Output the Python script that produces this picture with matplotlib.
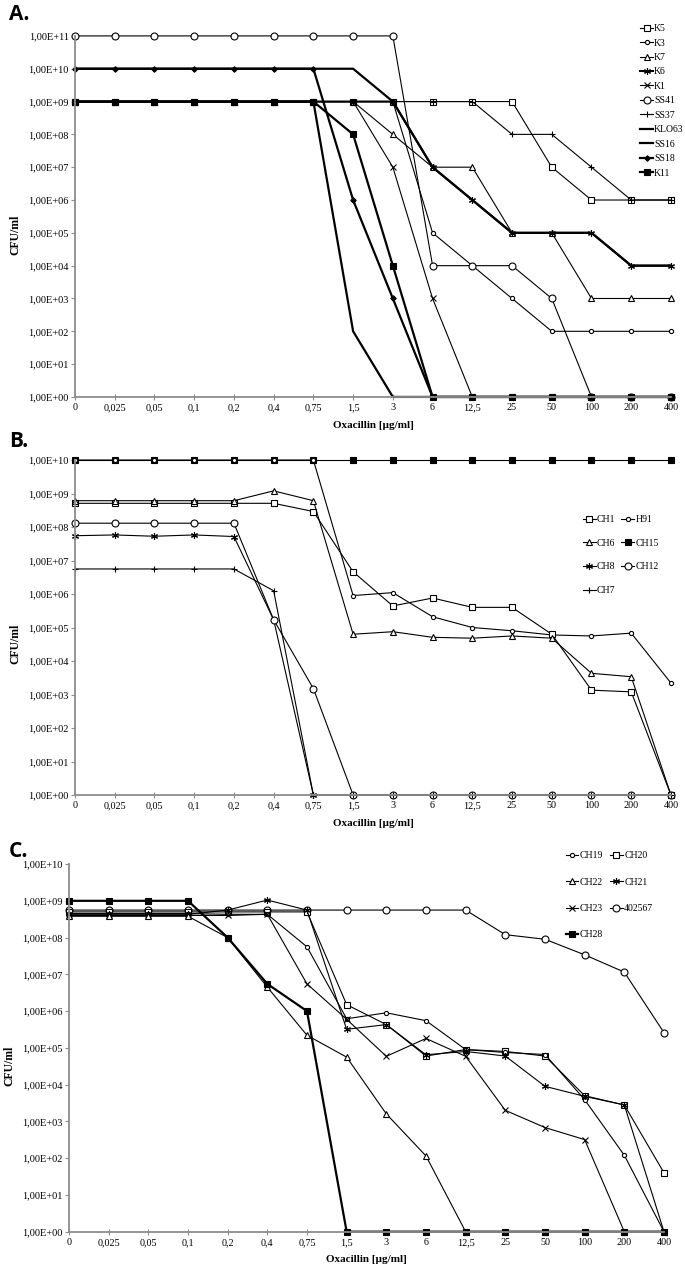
import numpy as np
import matplotlib
matplotlib.use('Agg')
import matplotlib.pyplot as plt

plt.rcParams['font.family'] = ['Liberation Serif', 'DejaVu Serif']

# stezenia oksacyliny (wspolne dla wszystkich paneli)
conc = ['0', '0,025', '0,05', '0,1', '0,2', '0,4', '0,75', '1,5', '3', '6',
        '12,5', '25', '50', '100', '200', '400']

# panel A
K5 = [1e9, 1e9, 1e9, 1e9, 1e9, 1e9, 1e9, 1e9, 1e9, 1e9, 1e9, 1e9, 1e7, 1e6, 1e6, 1e6]
K3 = [1e9, 1e9, 1e9, 1e9, 1e9, 1e9, 1e9, 1e9, 1e9, 1e5, 1e4, 1e3, 1e2, 1e2, 1e2, 1e2]
K7 = [1e9, 1e9, 1e9, 1e9, 1e9, 1e9, 1e9, 1e9, 1e8, 1e7, 1e7, 1e5, 1e5, 1e3, 1e3, 1e3]
K6 = [1e9, 1e9, 1e9, 1e9, 1e9, 1e9, 1e9, 1e9, 1e9, 1e7, 1e6, 1e5, 1e5, 1e5, 1e4, 1e4]
K1 = [1e9, 1e9, 1e9, 1e9, 1e9, 1e9, 1e9, 1e9, 1e7, 1e3, 1, 1, 1, 1, 1, 1]
SS41 = [1e11, 1e11, 1e11, 1e11, 1e11, 1e11, 1e11, 1e11, 1e11, 1e4, 1e4, 1e4, 1e3, 1, 1, 1]
SS37 = [1e9, 1e9, 1e9, 1e9, 1e9, 1e9, 1e9, 1e9, 1e9, 1e9, 1e9, 1e8, 1e8, 1e7, 1e6, 1e6]
KLO63 = [1e10, 1e10, 1e10, 1e10, 1e10, 1e10, 1e10, 1e10, 1e9, 1e7, 1e6, 1e5, 1e5, 1e5, 1e4, 1e4]
SS16 = [1e9, 1e9, 1e9, 1e9, 1e9, 1e9, 1e9, 1e2, 1, 1, 1, 1, 1, 1, 1, 1]
SS18 = [1e10, 1e10, 1e10, 1e10, 1e10, 1e10, 1e10, 1e6, 1e3, 1, 1, 1, 1, 1, 1, 1]
K11 = [1e9, 1e9, 1e9, 1e9, 1e9, 1e9, 1e9, 1e8, 1e4, 1, 1, 1, 1, 1, 1, 1]

# panel B
CH1 = [5.1e8, 5.1e8, 5.1e8, 5.1e8, 5.1e8, 5.1e8, 2.9e8, 4.6e6, 4.4e5, 7.6e5, 4e5, 4e5, 6.3e4, 1.35e3, 1.2e3, 1]
H91 = [1e10, 1e10, 1e10, 1e10, 1e10, 1e10, 1e10, 9e5, 1.1e6, 2.1e5, 1e5, 8e4, 6e4, 5.6e4, 6.8e4, 2.2e3]
CH6 = [6.1e8, 6.1e8, 6.1e8, 6.1e8, 6.1e8, 1.2e9, 6.1e8, 6.3e4, 7.5e4, 5.1e4, 4.8e4, 5.6e4, 4.8e4, 4.3e3, 3.4e3, 1]
CH15 = [1e10, 1e10, 1e10, 1e10, 1e10, 1e10, 1e10, 1e10, 1e10, 1e10, 1e10, 1e10, 1e10, 1e10, 1e10, 1e10]
CH8 = [5.5e7, 5.8e7, 5.3e7, 5.8e7, 5.2e7, 1.7e5, 1, 1, 1, 1, 1, 1, 1, 1, 1, 1]
CH12 = [1.3e8, 1.3e8, 1.3e8, 1.3e8, 1.3e8, 1.7e5, 1.5e3, 1, 1, 1, 1, 1, 1, 1, 1, 1]
CH7 = [5.6e6, 5.6e6, 5.6e6, 5.6e6, 5.6e6, 1.25e6, 1, 1, 1, 1, 1, 1, 1, 1, 1, 1]

# panel C
CH19 = [4.5e8, 4.5e8, 4.5e8, 4.5e8, 4.3e8, 4.3e8, 5.6e7, 6.2e5, 9e5, 5.5e5, 9e4, 7.5e4, 6.6e4, 3.9e3, 1.2e2, 1]
CH20 = [5e8, 5e8, 5e8, 5e8, 5e8, 5e8, 5e8, 1.5e6, 4.3e5, 6e4, 9e4, 8e4, 6e4, 5e3, 2.8e3, 40]
CH22 = [3.8e8, 3.8e8, 3.8e8, 3.8e8, 1e8, 4.5e6, 2.2e5, 5.6e4, 1.6e3, 1.15e2, 1, 1, 1, 1, 1, 1]
CH21 = [4.3e8, 4.3e8, 4.3e8, 4.3e8, 5.6e8, 1.05e9, 5.6e8, 3.2e5, 4.3e5, 6.5e4, 8e4, 6e4, 9e3, 4.8e3, 2.8e3, 1]
CH23 = [4e8, 4e8, 4e8, 4e8, 4e8, 4.3e8, 5.5e6, 6e5, 5.9e4, 1.8e5, 5.9e4, 2e3, 6.8e2, 3.2e2, 1, 1]
S402567 = [5.6e8, 5.6e8, 5.6e8, 5.6e8, 5.6e8, 5.6e8, 5.6e8, 5.6e8, 5.6e8, 5.6e8, 5.6e8, 1.2e8, 9e7, 3.4e7, 1.15e7, 2.6e5]
CH28 = [1e9, 1e9, 1e9, 1e9, 1e8, 5.5e6, 1e6, 1, 1, 1, 1, 1, 1, 1, 1, 1]

# style markerow
open_sq = dict(marker='s', ms=4.5, mfc='white')
small_o = dict(marker='o', ms=3, mfc='white')
big_o = dict(marker='o', ms=5, mfc='white')
tri = dict(marker='^', ms=4.5, mfc='white')
aster = dict(marker=(6, 2, 0), ms=5)
xm = dict(marker='x', ms=4)
plus = dict(marker='+', ms=5)
full_sq = dict(marker='s', ms=4.5, mfc='black')
diam = dict(marker='D', ms=2.8, mfc='black')
nomark = dict(marker='None')

fig = plt.figure(figsize=(6.85, 12.69), dpi=100)


def draw_panel(rect, series, top_exp, letter, letter_y):
    ax = fig.add_axes(rect)
    x = np.arange(len(conc))
    handles = {}
    for name, vals, st, lw in series:
        h, = ax.plot(x, vals, color='black', lw=lw, mec='black', mew=0.8,
                     clip_on=False, label=name, **st)
        handles[name] = h
    ax.set_yscale('log')
    ax.set_ylim(1, 10 ** top_exp)
    ax.set_xlim(0, 15)
    ax.set_xticks(x)
    ax.set_xticklabels(conc, fontsize=7.3)
    exps = list(range(0, top_exp + 1))
    ax.set_yticks([10.0 ** k for k in exps])
    ax.set_yticklabels(['1,00E+%02d' % k for k in exps], fontsize=7.5)
    ax.yaxis.set_minor_locator(matplotlib.ticker.NullLocator())
    for s in ['top', 'right']:
        ax.spines[s].set_visible(False)
    for s in ['left', 'bottom']:
        ax.spines[s].set_color('#8c8c8c')
        ax.spines[s].set_linewidth(1.3)
    ax.tick_params(axis='y', direction='out', length=3, width=0.8, color='#8c8c8c', pad=1.5)
    ax.tick_params(axis='x', direction='inout', length=5, width=0.8, color='#8c8c8c', pad=2)
    ax.set_xlabel('Oxacillin [µg/ml]', fontsize=8, fontweight='bold', labelpad=6)
    ax.set_ylabel('CFU/ml', fontsize=8.5, fontweight='bold')
    ax.yaxis.set_label_coords(-0.09, 0.45)
    fig.text(0.013, letter_y, letter, fontsize=15, fontweight='bold',
             family=['Open Sans', 'DejaVu Sans'], va='top')
    return ax, handles


# A
seriesA = [
    ('K5', K5, open_sq, 0.8), ('K3', K3, small_o, 0.8), ('K7', K7, tri, 0.8),
    ('K6', K6, aster, 1.5), ('K1', K1, xm, 0.8), ('SS41', SS41, big_o, 0.8),
    ('SS37', SS37, plus, 0.8), ('KLO63', KLO63, nomark, 1.6), ('SS16', SS16, nomark, 1.6),
    ('SS18', SS18, diam, 1.6), ('K11', K11, full_sq, 1.6),
]
axA, hA = draw_panel([0.1095, 0.6872, 0.870, 0.2845], seriesA, 11, 'A.', 0.997)
fig.legend([hA[n] for n, _, _, _ in seriesA], [n for n, _, _, _ in seriesA],
           loc='upper left', bbox_to_anchor=(0.935, 0.981), frameon=False,
           fontsize=7, handlelength=1.3, handletextpad=0.1, labelspacing=0.56,
           borderpad=0, borderaxespad=0)

# B
seriesB = [
    ('CH15', CH15, full_sq, 0.8), ('H91', H91, small_o, 0.8), ('CH1', CH1, open_sq, 0.8),
    ('CH6', CH6, tri, 0.8), ('CH8', CH8, aster, 0.8), ('CH12', CH12, big_o, 0.8),
    ('CH7', CH7, plus, 0.8),
]
axB, hB = draw_panel([0.1095, 0.3735, 0.870, 0.2640], seriesB, 10, 'B.', 0.660)
orderB = ['CH1', 'CH6', 'CH8', 'CH7', 'H91', 'CH15', 'CH12']
fig.legend([hB[n] for n in orderB], orderB, ncol=2, loc='upper left',
           bbox_to_anchor=(0.851, 0.594), frameon=False, fontsize=7,
           handlelength=1.3, handletextpad=0.15, labelspacing=1.5,
           columnspacing=0.6, borderpad=0, borderaxespad=0)

# C
seriesC = [
    ('402567', S402567, big_o, 0.8), ('CH20', CH20, open_sq, 0.8), ('CH19', CH19, small_o, 0.8),
    ('CH21', CH21, aster, 0.8), ('CH23', CH23, xm, 0.8), ('CH22', CH22, tri, 0.8),
    ('CH28', CH28, full_sq, 1.6),
]
axC, hC = draw_panel([0.1007, 0.0294, 0.8686, 0.2897], seriesC, 10, 'C.', 0.337)
orderC = ['CH19', 'CH22', 'CH23', 'CH28', 'CH20', 'CH21', '402567']
fig.legend([hC[n] for n in orderC], orderC, ncol=2, loc='upper left',
           bbox_to_anchor=(0.826, 0.329), frameon=False, fontsize=7,
           handlelength=1.3, handletextpad=0.15, labelspacing=1.78,
           columnspacing=0.7, borderpad=0, borderaxespad=0)

fig.savefig('out.png', dpi=100)
